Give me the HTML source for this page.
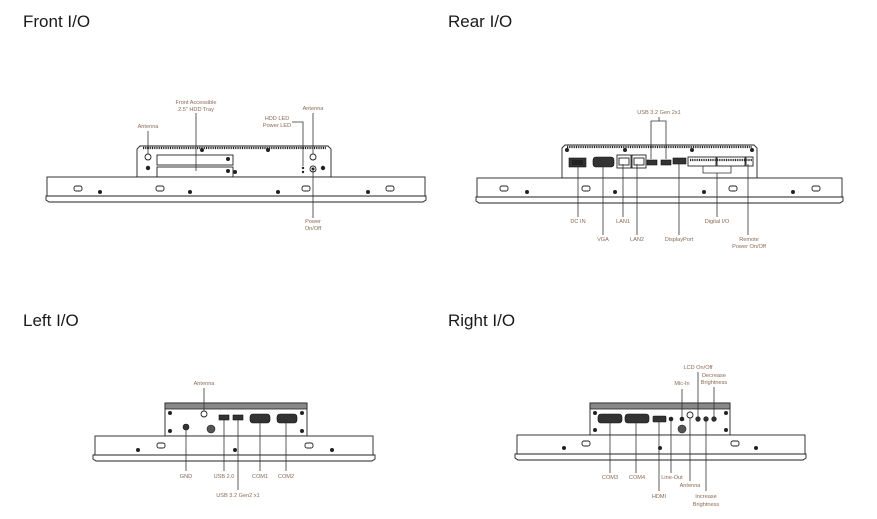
<!DOCTYPE html>
<html><head><meta charset="utf-8"><style>
html,body{margin:0;padding:0;background:#fff;}
svg{display:block}
.t{font-family:"Liberation Sans",sans-serif;font-size:17px;fill:#1a1a1a}
.l{font-family:"Liberation Sans",sans-serif;font-size:5.6px;fill:#8a6a55;text-anchor:middle}
.ln{stroke:#333;stroke-width:0.8;fill:none}
.o{stroke:#222;stroke-width:0.9;fill:#fff}
.d{fill:#222}
.p{fill:#333;stroke:#111;stroke-width:0.6}
.v{stroke:#222;stroke-width:2.2;stroke-dasharray:1 0.8;fill:none}
</style></head><body>
<svg width="877" height="519" viewBox="0 0 877 519" xmlns="http://www.w3.org/2000/svg">
<text class="t" x="23" y="27">Front I/O</text>
<text class="t" x="448" y="27">Rear I/O</text>
<text class="t" x="23" y="326">Left I/O</text>
<text class="t" x="448" y="326">Right I/O</text>

<!-- FRONT -->
<g>
<path class="o" d="M137,177 V149 L140,146 H328 L331,149 V177 Z"/>
<line class="v" x1="143" y1="148" x2="326" y2="148"/>
<rect class="o" x="157" y="155" width="76" height="10"/>
<rect class="o" x="157" y="167" width="76" height="10"/>
<circle class="o" cx="148" cy="157" r="3"/><circle class="o" cx="313" cy="157" r="3"/>
<circle class="d" cx="148" cy="168" r="2.2"/><circle class="d" cx="323" cy="168" r="2.2"/>
<circle class="d" cx="202" cy="150" r="2"/><circle class="d" cx="268" cy="150" r="2"/>
<circle class="d" cx="228" cy="159" r="2"/><circle class="d" cx="228" cy="171" r="2"/><circle class="d" cx="235" cy="172" r="2"/>
<circle class="d" cx="303" cy="168" r="1.2"/><circle class="d" cx="303" cy="172" r="1.2"/>
<circle class="o" cx="313" cy="169" r="3"/><circle class="d" cx="313" cy="169" r="1.5"/>
<rect class="o" x="47" y="177" width="378" height="19"/>
<path class="o" d="M46,196 H426 V200 L423,202 H49 L46,200 Z"/>
<rect class="o" x="74" y="186" width="8" height="5" rx="2"/><rect class="o" x="156" y="186" width="8" height="5" rx="2"/>
<rect class="o" x="302" y="186" width="8" height="5" rx="2"/><rect class="o" x="386" y="186" width="8" height="5" rx="2"/>
<circle class="d" cx="100" cy="192" r="2"/><circle class="d" cx="190" cy="192" r="2"/><circle class="d" cx="278" cy="192" r="2"/><circle class="d" cx="368" cy="192" r="2"/>
<text class="l" x="148" y="128">Antenna</text><line class="ln" x1="148" y1="131" x2="148" y2="154"/>
<text class="l" x="196" y="104">Front Accessible</text><text class="l" x="196" y="111">2.5" HDD Tray</text><line class="ln" x1="196" y1="113" x2="196" y2="171"/>
<text class="l" x="277" y="120">HDD LED</text><text class="l" x="277" y="127">Power LED</text><path class="ln" d="M292,122 H303 V166"/>
<text class="l" x="313" y="110">Antenna</text><line class="ln" x1="313" y1="113" x2="313" y2="154"/>
<line class="ln" x1="313" y1="171" x2="313" y2="218"/><text class="l" x="313" y="223">Power</text><text class="l" x="313" y="230">On/Off</text>
</g>

<!-- REAR -->
<g>
<path class="o" d="M562,178 V148 L565,145 H754 L757,148 V178 Z"/>
<line class="v" x1="567" y1="147" x2="752" y2="147"/>
<rect class="p" x="569" y="158" width="17" height="9" fill="#fff"/><rect class="d" x="572" y="160" width="11" height="5"/>
<rect class="p" x="593" y="157" width="21" height="10" rx="3"/>
<rect class="o" x="617" y="155" width="14" height="13"/><rect class="o" x="619" y="158" width="10" height="7"/>
<rect class="o" x="632" y="155" width="14" height="13"/><rect class="o" x="634" y="158" width="10" height="7"/>
<rect class="p" x="647" y="160" width="10" height="5"/><rect class="p" x="661" y="160" width="10" height="5"/>
<rect class="p" x="673" y="158" width="13" height="6"/>
<rect class="o" x="688" y="157" width="28" height="9"/><rect class="o" x="717" y="157" width="28" height="9"/><rect class="o" x="746" y="157" width="7" height="9"/>
<line class="v" x1="690" y1="160" x2="752" y2="160"/>
<circle class="d" cx="567" cy="150" r="2"/><circle class="d" cx="625" cy="150" r="2"/><circle class="d" cx="692" cy="150" r="2"/><circle class="d" cx="752" cy="150" r="2"/>
<rect class="o" x="477" y="178" width="365" height="19"/>
<path class="o" d="M476,197 H843 V201 L840,203 H479 L476,201 Z"/>
<rect class="o" x="500" y="186" width="8" height="5" rx="2"/><rect class="o" x="582" y="186" width="8" height="5" rx="2"/>
<rect class="o" x="729" y="186" width="8" height="5" rx="2"/><rect class="o" x="812" y="186" width="8" height="5" rx="2"/>
<circle class="d" cx="527" cy="192" r="2"/><circle class="d" cx="615" cy="192" r="2"/><circle class="d" cx="704" cy="192" r="2"/><circle class="d" cx="793" cy="192" r="2"/>
<text class="l" x="659" y="114">USB 3.2 Gen 2x1</text><path class="ln" d="M659,117 V121 M651,159 V121 H666 V159"/>
<line class="ln" x1="578" y1="164" x2="578" y2="217"/><text class="l" x="578" y="223">DC IN</text>
<line class="ln" x1="603" y1="164" x2="603" y2="235"/><text class="l" x="603" y="241">VGA</text>
<line class="ln" x1="623" y1="164" x2="623" y2="217"/><text class="l" x="623" y="223">LAN1</text>
<line class="ln" x1="637" y1="164" x2="637" y2="235"/><text class="l" x="637" y="241">LAN2</text>
<line class="ln" x1="679" y1="162" x2="679" y2="235"/><text class="l" x="679" y="241">DisplayPort</text>
<path class="ln" d="M703,166 V173 H731 V166 M717,173 V217"/><text class="l" x="717" y="223">Digital I/O</text>
<line class="ln" x1="748" y1="164" x2="748" y2="235"/><text class="l" x="749" y="241">Remote</text><text class="l" x="749" y="248">Power On/Off</text>
</g>

<!-- LEFT -->
<g>
<rect class="o" x="165" y="403" width="142" height="33"/>
<rect x="165" y="403" width="142" height="6" fill="#888" stroke="#222" stroke-width="0.8"/>
<circle class="o" cx="204" cy="414" r="3"/>
<circle class="d" cx="170" cy="413" r="2"/><circle class="d" cx="302" cy="413" r="2"/><circle class="d" cx="170" cy="431" r="2"/><circle class="d" cx="302" cy="431" r="2"/>
<circle class="p" cx="186" cy="427" r="3"/>
<circle cx="211" cy="429" r="4" fill="#555" stroke="#222" stroke-width="0.6"/>
<rect class="p" x="219" y="415" width="10" height="5"/><rect class="p" x="233" y="415" width="10" height="5"/>
<rect class="p" x="250" y="414" width="20" height="9" rx="3"/><rect class="p" x="277" y="414" width="20" height="9" rx="3"/>
<rect class="o" x="95" y="436" width="278" height="19"/>
<path class="o" d="M93,455 H375 V459 L372,461 H96 L93,459 Z"/>
<rect class="o" x="157" y="443" width="8" height="5" rx="2"/><rect class="o" x="305" y="443" width="8" height="5" rx="2"/>
<circle class="d" cx="138" cy="450" r="2"/><circle class="d" cx="235" cy="450" r="2"/><circle class="d" cx="332" cy="450" r="2"/>
<text class="l" x="204" y="385">Antenna</text><line class="ln" x1="204" y1="388" x2="204" y2="411"/>
<line class="ln" x1="186" y1="429" x2="186" y2="471"/><text class="l" x="186" y="478">GND</text>
<line class="ln" x1="224" y1="420" x2="224" y2="471"/><text class="l" x="224" y="478">USB 2.0</text>
<line class="ln" x1="238" y1="420" x2="238" y2="490"/><text class="l" x="238" y="497">USB 3.2 Gen2 x1</text>
<line class="ln" x1="260" y1="420" x2="260" y2="471"/><text class="l" x="260" y="478">COM1</text>
<line class="ln" x1="286" y1="420" x2="286" y2="471"/><text class="l" x="286" y="478">COM2</text>
</g>

<!-- RIGHT -->
<g>
<rect class="o" x="590" y="403" width="140" height="32"/>
<rect x="590" y="403" width="140" height="6" fill="#888" stroke="#222" stroke-width="0.8"/>
<circle class="d" cx="595" cy="413" r="2"/><circle class="d" cx="726" cy="413" r="2"/><circle class="d" cx="595" cy="430" r="2"/><circle class="d" cx="726" cy="430" r="2"/>
<rect class="p" x="598" y="414" width="24" height="9" rx="3"/><rect class="p" x="625" y="414" width="24" height="9" rx="3"/>
<rect class="p" x="653" y="416" width="13" height="6" rx="1"/>
<circle class="d" cx="671" cy="419" r="2.3"/><circle class="d" cx="682" cy="419" r="2.3"/>
<circle class="o" cx="690" cy="415" r="3"/>
<circle cx="682" cy="429" r="4" fill="#555" stroke="#222" stroke-width="0.6"/>
<circle class="p" cx="698" cy="419" r="2.3"/><circle class="p" cx="706" cy="419" r="2.3"/><circle class="p" cx="714" cy="419" r="2.3"/>
<rect class="o" x="517" y="435" width="288" height="19"/>
<path class="o" d="M515,454 H806 V458 L803,460 H518 L515,458 Z"/>
<rect class="o" x="582" y="441" width="8" height="5" rx="2"/><rect class="o" x="731" y="441" width="8" height="5" rx="2"/>
<circle class="d" cx="564" cy="448" r="2"/><circle class="d" cx="660" cy="448" r="2"/><circle class="d" cx="756" cy="448" r="2"/>
<line class="ln" x1="610" y1="421" x2="610" y2="473"/><text class="l" x="610" y="479">COM3</text>
<line class="ln" x1="636" y1="421" x2="636" y2="473"/><text class="l" x="637" y="479">COM4</text>
<line class="ln" x1="659" y1="421" x2="659" y2="491"/><text class="l" x="659" y="498">HDMI</text>
<line class="ln" x1="671" y1="421" x2="671" y2="473"/><text class="l" x="672" y="479">Line-Out</text>
<line class="ln" x1="690" y1="418" x2="690" y2="481"/><text class="l" x="690" y="487">Antenna</text>
<line class="ln" x1="706" y1="421" x2="706" y2="491"/><text class="l" x="706" y="498">Increase</text><text class="l" x="706" y="506">Brightness</text>
<text class="l" x="682" y="385">Mic-In</text><line class="ln" x1="682" y1="389" x2="682" y2="417"/>
<text class="l" x="698" y="369">LCD On/Off</text><line class="ln" x1="698" y1="372" x2="698" y2="417"/>
<text class="l" x="714" y="377">Decrease</text><text class="l" x="714" y="384">Brightness</text><line class="ln" x1="714" y1="387" x2="714" y2="417"/>
</g>
</svg>
</body></html>
